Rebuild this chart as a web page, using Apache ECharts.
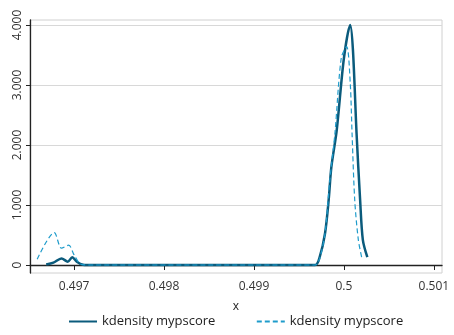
<!DOCTYPE html>
<html><head><meta charset="utf-8">
<script src="https://cdn.jsdelivr.net/npm/echarts@6/dist/echarts.min.js"></script>
<style>html,body{margin:0;padding:0;background:#fff}#c{width:454px;height:335px}</style>
</head><body><div id="c"></div>
<script>
var xTicks = [0.497, 0.498, 0.499, 0.5, 0.501];
var yTicks = [0, 1000, 2000, 3000, 4000];
var solidX = [0.49669, 0.49677, 0.49686, 0.49693, 0.49698, 0.49703, 0.4971, 0.49720, 0.4985, 0.49968, 0.49973, 0.49979, 0.49983, 0.49986, 0.49992, 0.50000, 0.50007, 0.50010, 0.50014, 0.50018, 0.50021, 0.50026];
var solidY = [10, 40, 110, 55, 130, 55, 5, 0, 0, 0, 130, 530, 1080, 1630, 2250, 3450, 4000, 3580, 2200, 1080, 420, 130];
var dashX = [0.49659, 0.49678, 0.49686, 0.49694, 0.49700, 0.49708, 0.49720, 0.4985, 0.49968, 0.49973, 0.49979, 0.49984, 0.49990, 0.49997, 0.50003, 0.50007, 0.50009, 0.50012, 0.50016, 0.50020];
var dashY = [95, 540, 280, 330, 170, 10, 0, 0, 0, 110, 530, 1370, 2200, 3450, 3640, 3030, 2200, 1080, 420, 110];
var seriesName = "kdensity mypscore";

function pairs(xs, ys){ return xs.map(function(x,i){return [x, ys[i]];}); }
var font = "Open Sans";
var chart = echarts.init(document.getElementById('c'));
chart.setOption({
  animation: false,
  textStyle: {fontFamily: font},
  grid: {left: 30, right: 12, top: 20, bottom: 62, show: true, borderColor: '#d0d0d0', borderWidth: 1},
  xAxis: {
    type: 'value', min: 0.49651, max: 0.50109,
    name: 'x', nameLocation: 'middle', nameGap: 28,
    nameTextStyle: {color: '#222', fontSize: 12, fontFamily: font},
    axisLine: {lineStyle: {color: '#222', width: 1.3}},
    axisTick: {show: true, length: 5, customValues: xTicks, lineStyle: {color: '#222'}},
    axisLabel: {customValues: xTicks, color: '#333', fontSize: 12, margin: 8,
      formatter: function(v){ return String(parseFloat(v.toFixed(4))); }},
    splitLine: {show: false}
  },
  yAxis: {
    type: 'value', min: -133, max: 4083,
    axisLine: {show: true, lineStyle: {color: '#222', width: 1.3}},
    axisTick: {show: true, length: 4, customValues: yTicks, lineStyle: {color: '#222'}},
    axisLabel: {customValues: yTicks, rotate: 90, color: '#333', fontSize: 12, margin: 6,
      formatter: function(v){ return String(Math.round(v)).replace(/\B(?=(\d{3})+(?!\d))/g, '.'); }},
    splitLine: {show: true, lineStyle: {color: '#d8d8d8', width: 1}}
  },
  legend: {
    bottom: 2, left: 63, itemWidth: 28, itemHeight: 10, itemGap: 37,
    itemStyle: {opacity: 0},
    textStyle: {color: '#222', fontSize: 13, fontFamily: font},
    data: [{name: seriesName + ' '}, {name: seriesName}]
  },
  series: [
    {name: seriesName + ' ', type: 'line', data: pairs(solidX, solidY), smooth: 0.3, symbol: 'none',
     lineStyle: {color: '#0b5b7c', width: 2.5}, itemStyle: {color: '#0b5b7c'}, z: 3},
    {name: seriesName, type: 'line', data: pairs(dashX, dashY), smooth: 0.3, symbol: 'none',
     lineStyle: {color: '#1f9ccb', width: 1.2, type: [5, 3]}, itemStyle: {color: '#1f9ccb'}, z: 4}
  ]
});
</script></body></html>
